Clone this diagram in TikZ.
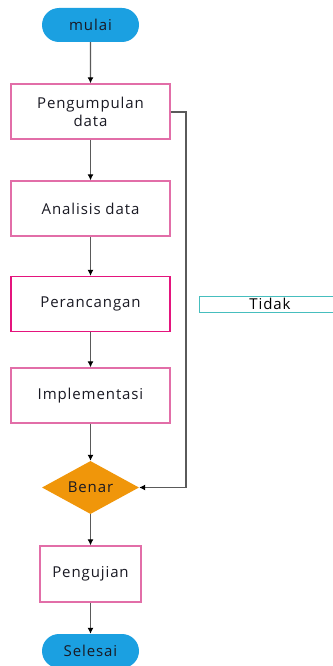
\documentclass[tikz,border=0pt]{standalone}
\usepackage{fontspec}
\setmainfont[LetterSpace=6]{Open Sans}
\usepackage{tikz}
\usetikzlibrary{shapes,arrows,arrows.meta}
\definecolor{boxline}{RGB}{226,110,168}
\definecolor{boxdark}{RGB}{228,20,125}
\definecolor{pillblue}{RGB}{27,160,225}
\definecolor{decorange}{RGB}{240,150,10}
\definecolor{tidakline}{RGB}{70,190,190}
\definecolor{flowline}{RGB}{90,90,90}
\definecolor{txt}{RGB}{25,25,35}

\begin{document}
\begin{tikzpicture}[x=1pt,y=-1pt]
\tikzstyle{txtfont}=[font=\fontsize{15}{17}\selectfont,text=txt];
\tikzstyle{terminal}=[txtfont,rounded rectangle,fill=pillblue,minimum width=97pt,minimum height=34pt,inner sep=0pt];
\tikzstyle{proc}=[txtfont,draw=boxline,line width=1.3pt,fill=white,minimum width=159pt,minimum height=55pt,align=center,inner sep=0pt];
\tikzstyle{decision}=[txtfont,diamond,fill=decorange,aspect=1.83,minimum width=97pt,minimum height=53pt,inner sep=0pt];
\tikzstyle{flow}=[draw=flowline,line width=1.1pt,-{Latex[length=6pt,width=6pt,black]}];

\useasboundingbox (0,0) rectangle (332,666);

\node[terminal] (mulai) at (90.5,25) {mulai};
\node[proc] (kumpul) at (90.5,111.5) {Pengumpulan\\[1pt]data};
\node[proc] (analisis) at (90.5,208.5) {Analisis data};
\node[proc,draw=boxdark] (rancang) at (90.5,304) {Perancangan};
\node[proc] (impl) at (90.5,395.5) {Implementasi};
\node[decision] (benar) at (90.5,487.5) {Benar};
\node[proc,minimum width=101pt,minimum height=56pt] (uji) at (90.5,574) {Pengujian};
\node[terminal] (selesai) at (90.5,651) {Selesai};
\node[txtfont,text=black,draw=tidakline,line width=1pt,minimum width=142pt,minimum height=16pt,inner sep=0pt,text depth=0pt] (tidak) at (270,304) {Tidak};
\coordinate (belok) at (186,112);

\draw[flow] (mulai) -- (kumpul);
\draw[flow] (kumpul) -- (analisis);
\draw[flow] (analisis) -- (rancang);
\draw[flow] (rancang) -- (impl);
\draw[flow] (impl) -- (benar);
\draw[flow] (benar) -- (uji);
\draw[flow] (uji) -- (selesai);
\draw[flow] (kumpul.east |- belok) -- (belok) |- (benar.east);
\end{tikzpicture}
\end{document}
